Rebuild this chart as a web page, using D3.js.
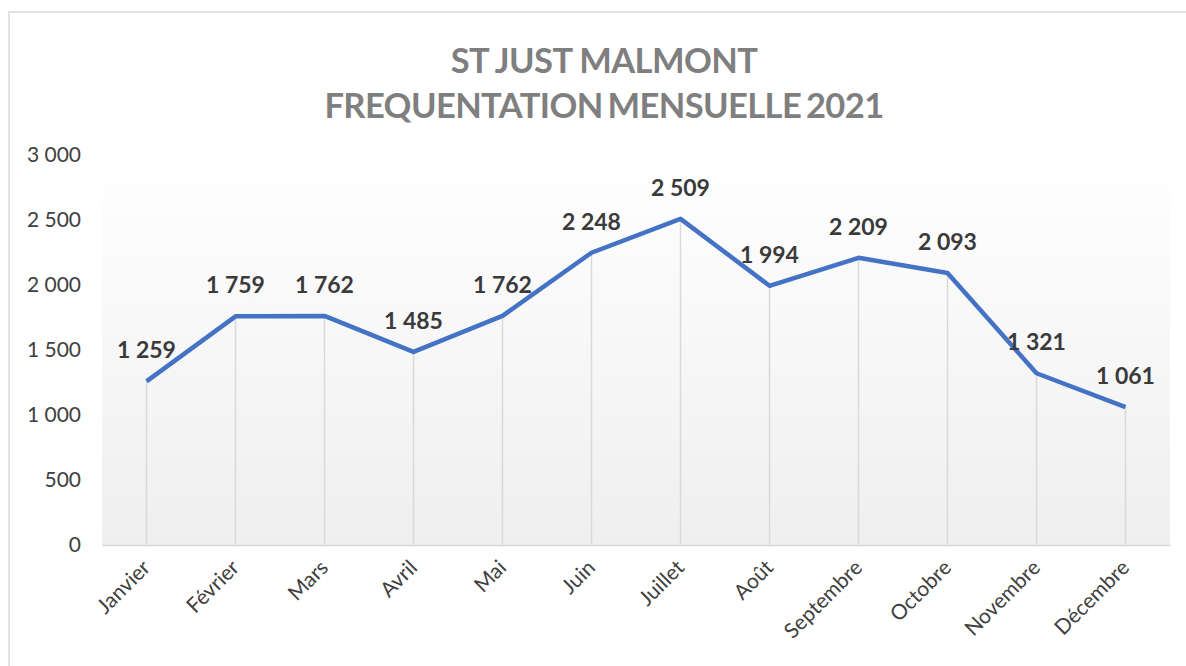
<!DOCTYPE html>
<html>
<head>
<meta charset="utf-8">
<script src="https://cdn.jsdelivr.net/npm/d3@7"></script>
<style>
  body { margin: 0; background: #fff; }
  svg { display: block; font-family: Lato, "Open Sans", sans-serif; }
</style>
</head>
<body>
<div id="chart"></div>
<script>
// monthly attendance
var months = ["Janvier", "Février", "Mars", "Avril", "Mai", "Juin", "Juillet",
              "Août", "Septembre", "Octobre", "Novembre", "Décembre"];
var visits = [1259, 1759, 1762, 1485, 1762, 2248, 2509, 1994, 2209, 2093, 1321, 1061];
var yTicks = [0, 500, 1000, 1500, 2000, 2500, 3000];
var titleLines = ["ST JUST MALMONT", "FREQUENTATION MENSUELLE 2021"];

var width = 1186, height = 666;
var margin = {top: 155, right: 16, bottom: 121, left: 102};

var fr = d3.formatLocale({decimal: ",", thousands: " ", grouping: [3], currency: ["", " €"]});
var fmt = fr.format(",d");

var svg = d3.select("#chart").append("svg")
    .attr("width", width)
    .attr("height", height);

// outer chart border (runs off the right/bottom of the shot)
svg.append("rect")
    .attr("x", 9).attr("y", 12)
    .attr("width", width + 20).attr("height", height + 20)
    .attr("fill", "#fff")
    .attr("stroke", "#d9d9d9")
    .attr("stroke-width", 1.5);

var x = d3.scaleBand()
    .domain(months)
    .range([margin.left, width - margin.right])
    .padding(0);

var y = d3.scaleLinear()
    .domain([0, 3000])
    .range([height - margin.bottom, margin.top]);

// plot area gradient
var defs = svg.append("defs");
var grad = defs.append("linearGradient")
    .attr("id", "plotGrad")
    .attr("x1", 0).attr("y1", 0).attr("x2", 0).attr("y2", 1);
grad.append("stop").attr("offset", "0%").attr("stop-color", "#ffffff");
grad.append("stop").attr("offset", "100%").attr("stop-color", "#efefef");

svg.append("rect")
    .attr("x", x.range()[0])
    .attr("y", y(3000))
    .attr("width", x.range()[1] - x.range()[0])
    .attr("height", y(0) - y(3000))
    .attr("fill", "url(#plotGrad)");

// title
svg.append("g").selectAll("text")
  .data(titleLines)
  .enter().append("text")
    .attr("x", 604)
    .attr("y", function (d, i) { return 73 + i * 45; })
    .attr("text-anchor", "middle")
    .attr("font-size", 34.5)
    .attr("font-weight", "bold")
    .attr("fill", "#7f7f7f")
    .attr("letter-spacing", "-0.6")
    .attr("word-spacing", function (d, i) { return i ? "-3" : "0"; })
    .text(function (d) { return d; });

// y axis labels
var yAxis = svg.append("g")
    .attr("transform", "translate(" + 81 + ",0)")
    .call(d3.axisLeft(y).tickValues(yTicks).tickSize(0).tickPadding(0).tickFormat(fmt));
yAxis.select(".domain").remove();
yAxis.selectAll("text")
    .attr("font-family", "Lato, sans-serif")
    .attr("font-size", 21)
    .attr("fill", "#404040");

// drop lines
var cx = function (d, i) { return x(months[i]) + x.bandwidth() / 2; };
svg.append("g").selectAll("line")
  .data(visits)
  .enter().append("line")
    .attr("x1", cx).attr("x2", cx)
    .attr("y1", function (d) { return y(d); })
    .attr("y2", y(0))
    .attr("stroke", "#d9d9d9")
    .attr("stroke-width", 1.5);

// x axis
var xAxis = svg.append("g")
    .attr("transform", "translate(0," + y(0) + ")")
    .call(d3.axisBottom(x).tickSize(0).tickSizeOuter(0).tickPadding(0));
xAxis.select(".domain")
    .attr("stroke", "#d9d9d9")
    .attr("stroke-width", 1.5);
xAxis.selectAll("text")
    .attr("font-family", "Lato, sans-serif")
    .attr("font-size", 21)
    .attr("fill", "#404040")
    .style("text-anchor", "end")
    .attr("dy", "0")
    .attr("y", 0)
    .attr("transform", "translate(5,24) rotate(-45)");

// line
var line = d3.line()
    .x(cx)
    .y(function (d) { return y(d); });

svg.append("path")
    .datum(visits)
    .attr("d", line)
    .attr("fill", "none")
    .attr("stroke", "#4472c4")
    .attr("stroke-width", 4.5)
    .attr("stroke-linejoin", "round");

// data labels
svg.append("g").selectAll("text")
  .data(visits)
  .enter().append("text")
    .attr("x", cx)
    .attr("y", function (d) { return y(d) - 23; })
    .attr("text-anchor", "middle")
    .attr("font-size", 23)
    .attr("font-weight", "bold")
    .attr("fill", "#3a3a3a")
    .text(function (d) { return fmt(d); });
</script>
</body>
</html>
